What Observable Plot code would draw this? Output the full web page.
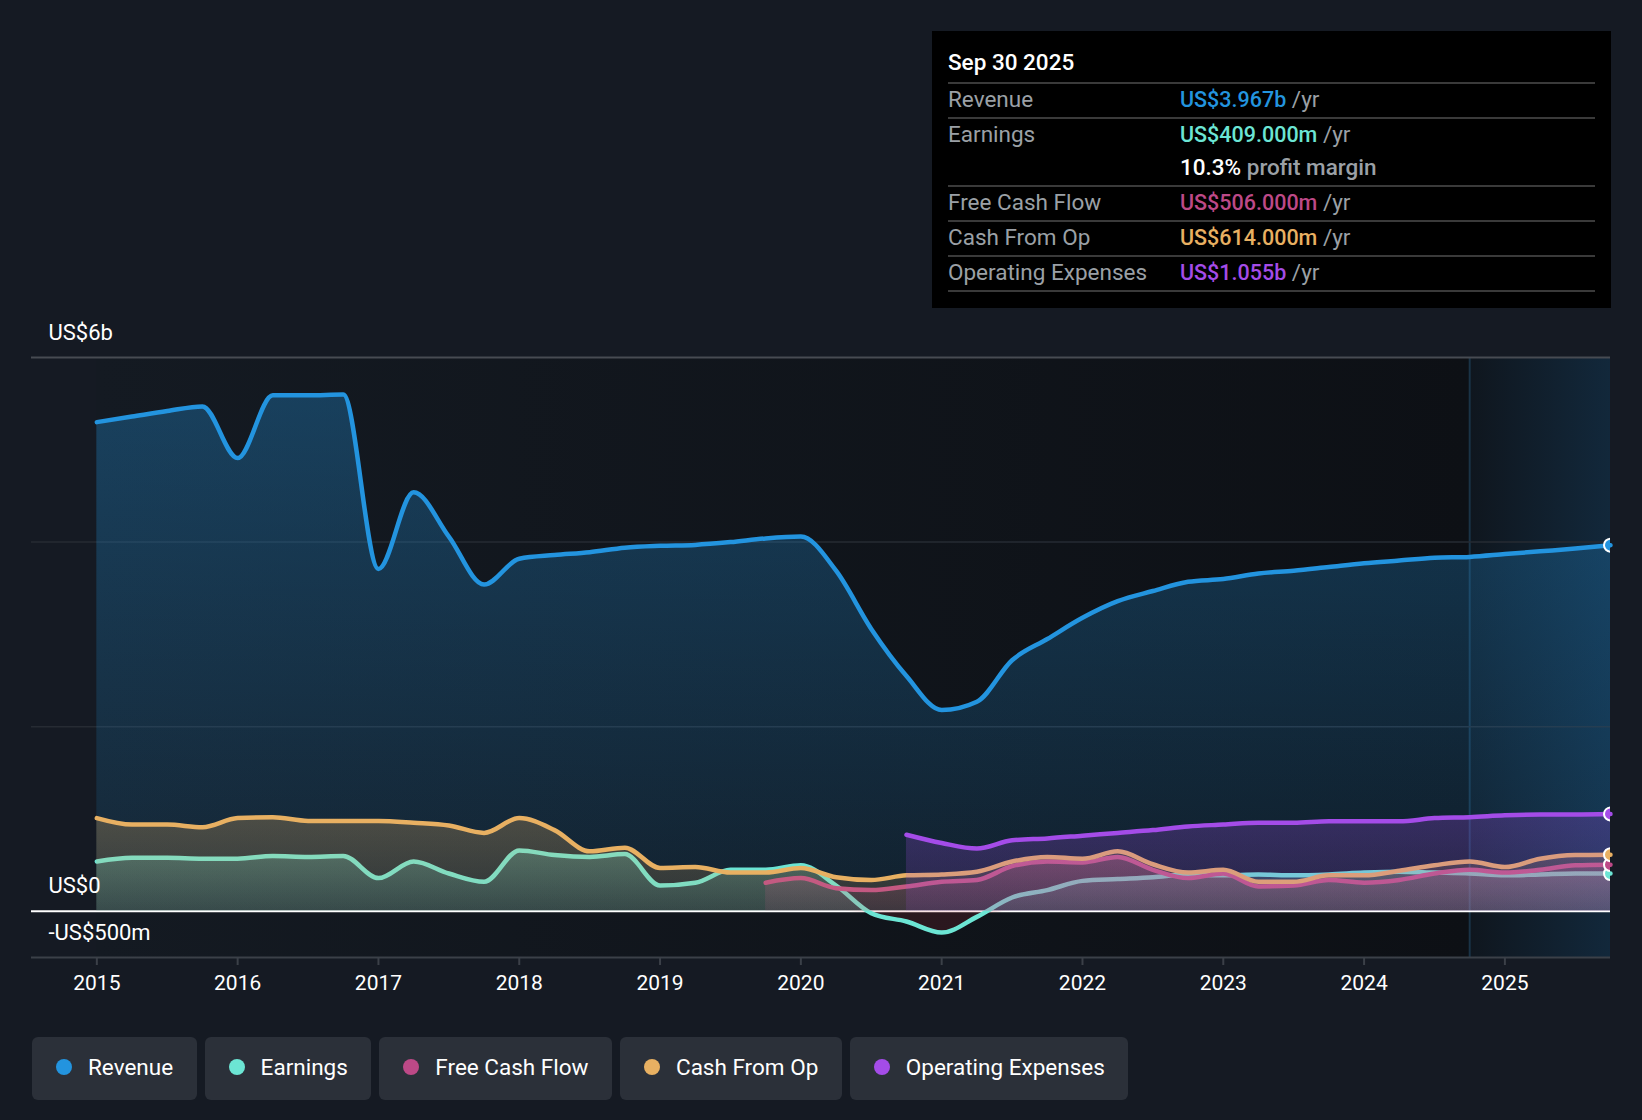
<!DOCTYPE html>
<html>
<head>
<meta charset="utf-8">
<script src="https://cdn.jsdelivr.net/npm/d3@7"></script>
<script src="https://cdn.jsdelivr.net/npm/@observablehq/plot@0.6"></script>
<style>
html, body { margin: 0; padding: 0; background: #151a23; }
body { width: 1642px; height: 1120px; position: relative; overflow: hidden; font-family: Roboto, "Noto Sans", sans-serif; color: #fff; }
#chart { position: absolute; left: 0; top: 300px; }
#tip { position: absolute; left: 932px; top: 31px; width: 679px; height: 277px; background: #000; box-sizing: border-box; padding: 0 16px; font-size: 22.5px; }
#tip .title { height: 51px; line-height: 62px; font-weight: 500; color: #fff; }
#tip .row { border-top: 2px solid #3a3a3a; display: flex; }
#tip .row:last-child { border-bottom: 2px solid #3a3a3a; }
#tip .lab { width: 232px; color: #9ba0a6; line-height: 33px; position: relative; top: -1px; }
#tip .val { line-height: 33px; position: relative; top: -1px; }
#tip .val b { font-weight: 500; }
#tip .val b.num { font-size: 21.5px; }
#tip .unit { color: #9ba0a6; }
#legend { position: absolute; left: 32px; top: 1037px; display: flex; gap: 8px; }
#legend .item { height: 63px; box-sizing: border-box; padding: 0 23.5px 3px 24px; background: #2b3039; border-radius: 6px; display: flex; align-items: center; font-size: 22.5px; color: #fff; }
#legend .dot { width: 16px; height: 16px; border-radius: 50%; margin-right: 16px; }
</style>
</head>
<body>
<div id="tip"></div>
<div id="chart"></div>
<div id="legend"></div>
<script>
// ---------- data (US$ billions, trailing twelve months, quarterly) ----------
const periods = [
  2015, 2015.25, 2015.5, 2015.75, 2016, 2016.25, 2016.5, 2016.75,
  2017, 2017.25, 2017.5, 2017.75, 2018, 2018.25, 2018.5, 2018.75,
  2019, 2019.25, 2019.5, 2019.75, 2020, 2020.25, 2020.5, 2020.75,
  2021, 2021.25, 2021.5, 2021.75, 2022, 2022.25, 2022.5, 2022.75,
  2023, 2023.25, 2023.5, 2023.75, 2024, 2024.25, 2024.5, 2024.75,
  2025, 2025.25, 2025.5, 2025.75
];
const revenue = [
  5.30, 5.36, 5.42, 5.47, 4.91, 5.59, 5.59, 5.60,
  3.71, 4.54, 4.06, 3.54, 3.82, 3.86, 3.89, 3.94,
  3.96, 3.97, 4.00, 4.04, 4.06, 3.69, 3.06, 2.55,
  2.18, 2.27, 2.72, 2.95, 3.18, 3.36, 3.47, 3.57,
  3.60, 3.66, 3.69, 3.73, 3.77, 3.80, 3.83, 3.84,
  3.87, 3.90, 3.93, 3.967
];
const earnings = [
  0.54, 0.58, 0.58, 0.57, 0.57, 0.60, 0.59, 0.60,
  0.36, 0.54, 0.41, 0.32, 0.66, 0.61, 0.59, 0.62,
  0.28, 0.31, 0.45, 0.45, 0.50, 0.28, -0.02, -0.11,
  -0.23, -0.06, 0.15, 0.23, 0.33, 0.35, 0.37, 0.40,
  0.39, 0.40, 0.39, 0.40, 0.42, 0.43, 0.42, 0.41,
  0.39, 0.40, 0.41, 0.409
];
const freeCashFlow = [
  null, null, null, null, null, null, null, null,
  null, null, null, null, null, null, null, null,
  null, null, null, 0.31, 0.36, 0.25, 0.23, 0.27,
  0.32, 0.34, 0.49, 0.54, 0.53, 0.59, 0.45, 0.36,
  0.41, 0.27, 0.28, 0.34, 0.31, 0.34, 0.41, 0.45,
  0.42, 0.45, 0.50, 0.506
];
const cashFromOp = [
  1.01, 0.94, 0.94, 0.91, 1.01, 1.02, 0.98, 0.98,
  0.98, 0.96, 0.93, 0.85, 1.01, 0.88, 0.65, 0.69,
  0.47, 0.48, 0.42, 0.42, 0.47, 0.37, 0.34, 0.39,
  0.40, 0.43, 0.54, 0.59, 0.57, 0.65, 0.51, 0.42,
  0.45, 0.32, 0.32, 0.39, 0.39, 0.44, 0.50, 0.54,
  0.48, 0.57, 0.61, 0.614
];
const operatingExpenses = [
  null, null, null, null, null, null, null, null,
  null, null, null, null, null, null, null, null,
  null, null, null, null, null, null, null, 0.83,
  0.74, 0.68, 0.77, 0.79, 0.82, 0.85, 0.88, 0.92,
  0.94, 0.96, 0.96, 0.975, 0.975, 0.975, 1.01, 1.02,
  1.04, 1.05, 1.05, 1.055
];
const seriesNames  = ["Revenue", "Earnings", "Free Cash Flow", "Cash From Op", "Operating Expenses"];
const seriesColors = ["#2394df", "#6ce5d4", "#bd4987", "#e8b062", "#a44ce8"];
const seriesValues = [revenue, earnings, freeCashFlow, cashFromOp, operatingExpenses];
const yearTicks = [2015, 2016, 2017, 2018, 2019, 2020, 2021, 2022, 2023, 2024, 2025];
const yGrid = [2, 4];
const yLabels = [{v: 6, label: "US$6b"}, {v: 0, label: "US$0"}, {v: -0.5, label: "-US$500m"}];
const tooltipDate = "Sep 30 2025";

// ---------- build ----------
const rowsOf = arr => periods.map((t, i) => ({t, v: arr[i]})).filter(d => d.v != null);
const series = seriesNames.map((name, i) => ({name, color: seriesColors[i], rows: rowsOf(seriesValues[i]), id: "g" + i}));
const lastT = periods[periods.length - 1];
const forecastStart = lastT - 1;
const curve = "monotone-x";

const marks = [
  Plot.rect([{a: periods[0], b: forecastStart}], {x1: "a", x2: "b", fill: "url(#bgPast)"}),
  Plot.rect([{a: forecastStart, b: lastT}], {x1: "a", x2: "b", fill: "url(#bgFuture)"}),
  Plot.ruleX([forecastStart], {stroke: "#1a3346", strokeWidth: 2}),
  Plot.ruleY(yGrid, {stroke: "#262b33", strokeWidth: 1.5}),
  Plot.ruleY([6], {stroke: "#474b52", strokeWidth: 2}),
  Plot.ruleY([-0.5], {stroke: "#3b4048", strokeWidth: 2}),
  Plot.ruleY([0], {stroke: "#ffffff", strokeWidth: 2})
];
const opac = [[0.32, 0.10], [0.28, 0.12], [0.30, 0.12], [0.26, 0.12], [0.26, 0.14]];
series.forEach((s, i) => {
  if (s.name === "Earnings") {
    marks.push(Plot.areaY(s.rows, {x: "t", y: d => Math.max(0, d.v), fill: `url(#${s.id})`, curve}));
    marks.push(Plot.areaY(s.rows, {x: "t", y: d => Math.min(0, d.v), fill: "#d8343f", fillOpacity: 0.14, curve}));
  } else {
    marks.push(Plot.areaY(s.rows, {x: "t", y: "v", fill: `url(#${s.id})`, curve}));
  }
  marks.push(Plot.lineY(s.rows, {x: "t", y: "v", stroke: s.color, strokeWidth: 4.5, curve, strokeLinejoin: "round", strokeLinecap: "round"}));
});
series.forEach(s => {
  marks.push(Plot.dot([s.rows[s.rows.length - 1]], {x: "t", y: "v", r: 6.5, fill: s.color, stroke: "#fff", strokeWidth: 2, clip: true}));
});
marks.push(Plot.text(yLabels, {frameAnchor: "left", y: "v", text: "label", dx: 17, dy: -25, textAnchor: "start", fill: "#fff", fontSize: 22}));

const svg = Plot.plot({
  width: 1642, height: 707,
  marginLeft: 31, marginRight: 32, marginTop: 57, marginBottom: 50,
  style: {background: "transparent", color: "#fff", fontFamily: "Roboto, sans-serif", fontSize: "21px", overflow: "visible"},
  x: {domain: [2014.536, lastT], ticks: yearTicks, tickFormat: d => String(d), tickSize: 8, tickPadding: 10, label: null},
  y: {domain: [-0.5, 6], axis: null},
  marks
});

const defs = d3.select(svg).insert("defs", ":first-child");
function grad(id, stops, horizontal) {
  const g = defs.append("linearGradient").attr("id", id)
    .attr("x1", 0).attr("y1", 0).attr("x2", horizontal ? 1 : 0).attr("y2", horizontal ? 0 : 1);
  stops.forEach(([o, c, a]) => g.append("stop").attr("offset", o).attr("stop-color", c).attr("stop-opacity", a));
}
series.forEach((s, i) => grad(s.id, [[0, s.color, opac[i][0]], [1, s.color, opac[i][1]]], false));
grad("bgPast", [[0, "#141a22", 1], [1, "#0d1015", 1]], true);
grad("bgFuture", [[0, "#0f161e", 1], [1, "#12283b", 1]], true);

d3.select(svg).selectAll('g[aria-label="x-axis tick"]').attr("stroke", "#3b4048").attr("stroke-width", 2);
d3.select(svg).selectAll('g[aria-label="x-axis"] .tick line').attr("stroke", "#3b4048").attr("stroke-width", 2);
d3.select(svg).selectAll('g[aria-label="x-axis"] .domain').remove();
document.getElementById("chart").appendChild(svg);

// ---------- tooltip ----------
const fmt = v => v >= 1 ? `US$${v.toFixed(3)}b` : `US$${(v * 1000).toFixed(3)}m`;
const last = s => s.rows[s.rows.length - 1].v;
const tip = document.getElementById("tip");
let html = `<div class="title">${tooltipDate}</div>`;
series.forEach(s => {
  let val = `<div><b class="num" style="color:${s.color}">${fmt(last(s))}</b> <span class="unit">/yr</span></div>`;
  if (s.name === "Earnings") {
    const margin = (last(s) / last(series[0]) * 100).toFixed(1);
    val += `<div><b style="color:#fff">${margin}%</b> <b class="unit">profit margin</b></div>`;
  }
  html += `<div class="row"><div class="lab">${s.name}</div><div class="val">${val}</div></div>`;
});
tip.innerHTML = html;

// ---------- legend ----------
const legend = document.getElementById("legend");
series.forEach(s => {
  const it = document.createElement("div");
  it.className = "item";
  it.innerHTML = `<span class="dot" style="background:${s.color}"></span><span>${s.name}</span>`;
  legend.appendChild(it);
});
</script>
</body>
</html>
